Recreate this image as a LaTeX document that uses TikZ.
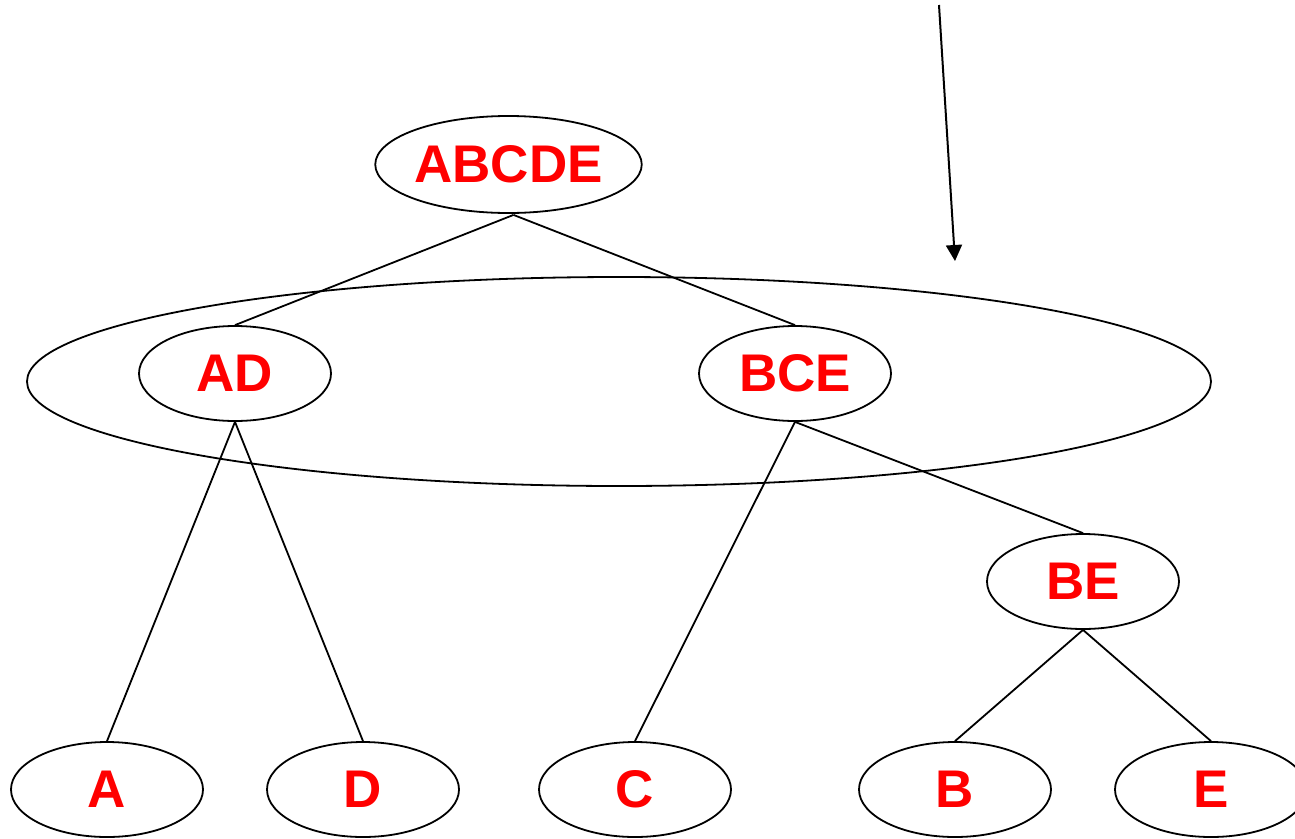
\documentclass[tikz,border=0pt]{standalone}
\usepackage{fontspec}
\setmainfont{Liberation Sans}
\usetikzlibrary{shapes.geometric,arrows.meta}
\begin{document}
\begin{tikzpicture}[x=1pt,y=-1pt,line width=1.8pt,
  setnode/.style={ellipse,draw,inner sep=0pt,minimum width=192pt,minimum height=95pt,
    text=red,font=\fontsize{53}{53}\selectfont\bfseries},
  link/.style={draw,line width=1.8pt}]
\useasboundingbox (0,0) rectangle (1295,838);
\node[setnode,minimum width=257pt,minimum height=97pt] (abcde) at (508.5,164.5) {ABCDE};
\node[ellipse,draw,inner sep=0pt,minimum width=1184pt,minimum height=209pt] (big) at (619,381.5) {};
\node[setnode] (ad) at (235,373.5) {AD};
\node[setnode] (bce) at (795,373.5) {BCE};
\node[setnode] (be) at (1083,581.5) {BE};
\node[setnode] (a) at (107,789.5) {A};
\node[setnode] (d) at (363,789.5) {D};
\node[setnode] (c) at (635,789.5) {C};
\node[setnode] (b) at (955,789.5) {B};
\node[setnode] (e) at (1211,789.5) {E};
\coordinate (topjoin) at ([xshift=5pt,yshift=-1pt]abcde.south);
\draw[link] (topjoin) -- (ad.north);
\draw[link] (topjoin) -- (bce.north);
\draw[link] (ad.south) -- (a.north);
\draw[link] (ad.south) -- (d.north);
\draw[link] (bce.south) -- (c.north);
\draw[link] (bce.south) -- (be.north);
\draw[link] (be.south) -- (b.north);
\draw[link] (be.south) -- (e.north);
\coordinate (arrstart) at (939,5);
\coordinate (arrend) at (955,261);
\draw[line width=2pt,-{Triangle[length=16pt,width=16pt]}] (arrstart) -- (arrend);
\end{tikzpicture}
\end{document}
